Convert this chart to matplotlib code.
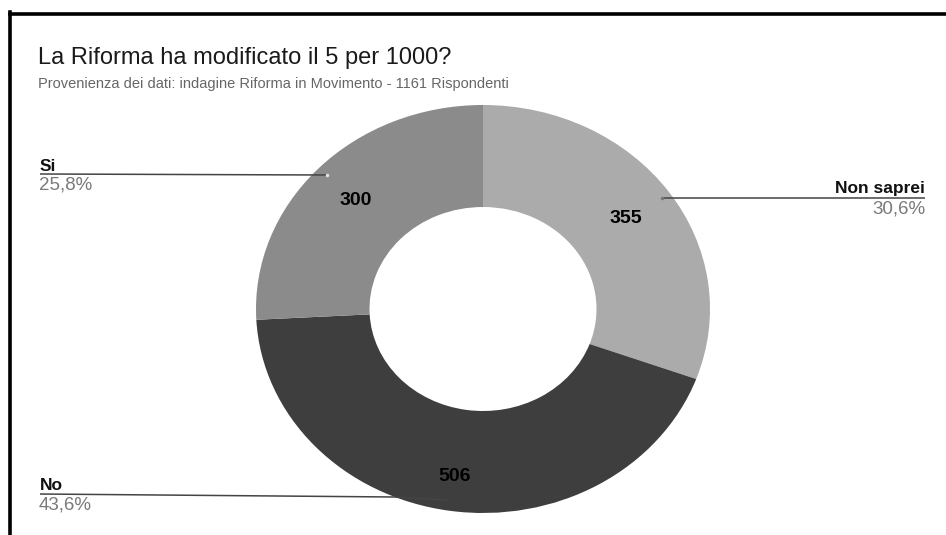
import matplotlib.pyplot as plt
import numpy as np
from matplotlib.lines import Line2D

# survey answers (clockwise from the top)
categories = ['Non saprei', 'No', 'Si']
counts = [355, 506, 300]
pct_labels = ['30,6%', '43,6%', '25,8%']
slice_colors = ['#ababab', '#3e3e3e', '#8b8b8b']

title = 'La Riforma ha modificato il 5 per 1000?'
subtitle = 'Provenienza dei dati: indagine Riforma in Movimento - 1161 Rispondenti'

W, H = 946, 535
plt.rcParams['font.family'] = ['Liberation Sans', 'DejaVu Sans']

fig = plt.figure(figsize=(W / 100, H / 100), dpi=100)
ax = fig.add_axes([0, 0, 1, 1])

# donut centre and radii in pixels (slightly wider than tall)
cx, cy, rx, ry = 483, 309, 227, 204


def px(x):
    return (x - cx) / rx


def py(y):
    return (cy - y) / ry


wedges, _ = ax.pie(counts, colors=slice_colors, startangle=90, counterclock=False,
                   radius=1, wedgeprops=dict(width=0.5, edgecolor='none'))
ax.set_aspect('auto')
ax.set_xlim(px(0), px(W))
ax.set_ylim(py(H), py(0))
ax.axis('off')

# value labels inside the ring
label_dist = [0.77, 0.83, 0.77]
for w, n, d in zip(wedges, counts, label_dist):
    mid = np.deg2rad((w.theta1 + w.theta2) / 2)
    ax.text(d * np.cos(mid), d * np.sin(mid), str(n), ha='center', va='center',
            fontsize=14, fontweight='bold', color='black')

# leader lines and outside labels
line_kw = dict(color='#444444', lw=1.1, solid_capstyle='butt')
ax.plot([px(40), px(327)], [py(174), py(175)], **line_kw)
ax.plot(px(327), py(175), 'o', ms=2.5, color='#e6e6e6', mec='none')
ax.plot([px(662), px(925)], [py(198), py(198)], **line_kw)
ax.plot(px(662), py(198), 'o', ms=2.5, color='#777777', mec='none')
ax.plot([px(40), px(395), px(447)], [py(494), py(497), py(500)], **line_kw)

lab_kw = dict(fontsize=12.5, fontweight='bold', color='#111111', va='baseline')
pct_kw = dict(fontsize=13.5, color='#7a7a7a', va='baseline')

ax.text(px(40), py(171), categories[2], ha='left', **lab_kw)
ax.text(px(39), py(190), pct_labels[2], ha='left', **pct_kw)
ax.text(px(925), py(193), categories[0], ha='right', **lab_kw)
ax.text(px(925), py(213), pct_labels[0], ha='right', **pct_kw)
ax.text(px(40), py(490), categories[1], ha='left', **lab_kw)
ax.text(px(39), py(510), pct_labels[1], ha='left', **pct_kw)

# title block
fig.text(38 / W, 1 - 64 / H, title, fontsize=17, color='#1a1a1a', va='baseline')
fig.text(38 / W, 1 - 88 / H, subtitle, fontsize=10.5, color='#666666', va='baseline')

# black frame on the top and left edges
fig.add_artist(Line2D([10 / W, 1], [1 - 13.5 / H, 1 - 13.5 / H], color='black', lw=2.6,
                      transform=fig.transFigure))
fig.add_artist(Line2D([10 / W, 10 / W], [1 - 12 / H, 0], color='black', lw=2.6,
                      transform=fig.transFigure))

fig.savefig('out.png', dpi=100, facecolor='white')
